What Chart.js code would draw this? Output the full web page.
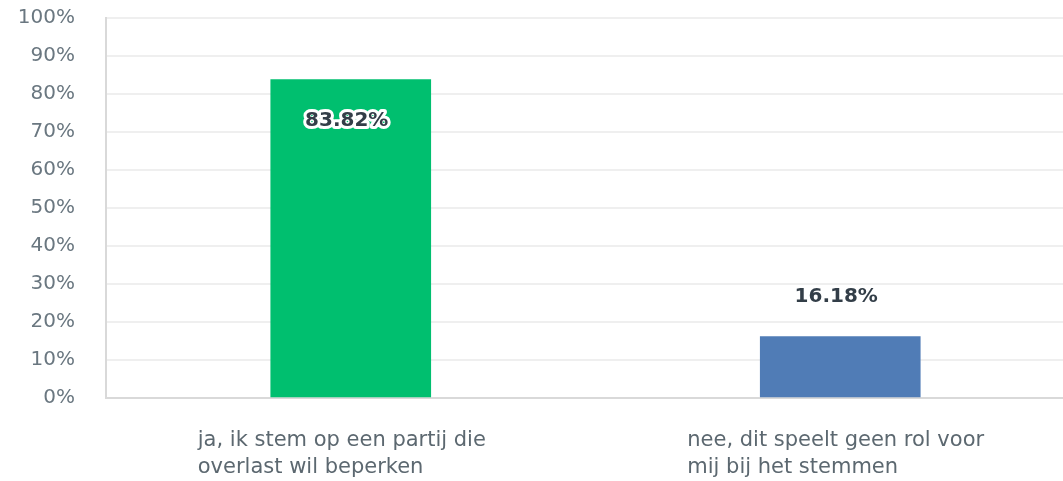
<!DOCTYPE html>
<html>
<head>
<meta charset="utf-8">
<script src="https://cdn.jsdelivr.net/npm/chart.js@4.4.1/dist/chart.umd.min.js"></script>
<style>
  html, body { margin: 0; padding: 0; background: #fff; overflow: hidden; }
  #wrap { width: 1063px; height: 481px; overflow: hidden; }
  canvas { display: block; }
</style>
</head>
<body>
<div id="wrap"><canvas id="chart" width="1090" height="481"></canvas></div>
<script>
/* ─── Data ────────────────────────────────────────────────────────────── */
const categories = [
  ["ja, ik stem op een partij die", "overlast wil beperken"],
  ["nee, dit speelt geen rol voor", "mij bij het stemmen"],
];
const values     = [83.82, 16.18];
const barColors  = ["#00bf6f", "#507cb6"];
const yTicks     = [0, 10, 20, 30, 40, 50, 60, 70, 80, 90, 100];

const FONT = "'DejaVu Sans', sans-serif";

/* ─── Value labels with white halo ────────────────────────────────────── */
const valueLabels = {
  id: "valueLabels",
  afterDatasetsDraw(chart) {
    const ctx = chart.ctx;
    const meta = chart.getDatasetMeta(0);
    ctx.save();
    ctx.font = `bold 20px ${FONT}`;
    ctx.textAlign = "center";
    ctx.textBaseline = "middle";
    ctx.lineJoin = "round";
    meta.data.forEach((bar, i) => {
      const v = values[i];
      const txt = v.toFixed(2) + "%";
      // tall bars carry the label inside, short ones above
      const y = v > 50 ? bar.y + 41 : bar.y - 40;
      ctx.strokeStyle = "#ffffff";
      ctx.lineWidth = 6;
      ctx.strokeText(txt, bar.x - 4, y);
      ctx.fillStyle = "#333e48";
      ctx.fillText(txt, bar.x - 4, y);
    });
    ctx.restore();
  },
};

/* ─── Chart ───────────────────────────────────────────────────────────── */
new Chart(document.getElementById("chart").getContext("2d"), {
  type: "bar",
  data: {
    labels: categories,
    datasets: [{
      data: values,
      backgroundColor: barColors,
      borderWidth: 0,
      barThickness: 160,
    }],
  },
  options: {
    responsive: false,
    animation: false,
    layout: { padding: { top: 18, right: 5, left: 0, bottom: 0 } },
    plugins: { legend: { display: false }, tooltip: { enabled: false } },
    scales: {
      x: {
        grid: { display: false, drawTicks: false },
        border: { display: true, color: "#d9d9d9", width: 2 },
        ticks: {
          color: "#5c6870",
          font: { family: FONT, size: 21, lineHeight: 1.24 },
          align: "start",
          labelOffset: -153,
          padding: 30,
          maxRotation: 0,
          autoSkip: false,
        },
        afterFit: s => { s.height = 83; s.paddingLeft = 0; s.paddingRight = 0; },
      },
      y: {
        min: 0, max: 100,
        afterBuildTicks: s => { s.ticks = yTicks.map(v => ({ value: v })); },
        grid: { color: "#efefef", lineWidth: 2, drawTicks: false },
        border: { display: true, color: "#d9d9d9", width: 2 },
        ticks: {
          color: "#6a7780",
          font: { family: FONT, size: 20 },
          padding: 31,
          callback: v => v + "%",
        },
        afterFit: s => { s.width = 106; s.paddingTop = 0; s.paddingBottom = 0; },
      },
    },
  },
  plugins: [valueLabels],
});
</script>
</body>
</html>
